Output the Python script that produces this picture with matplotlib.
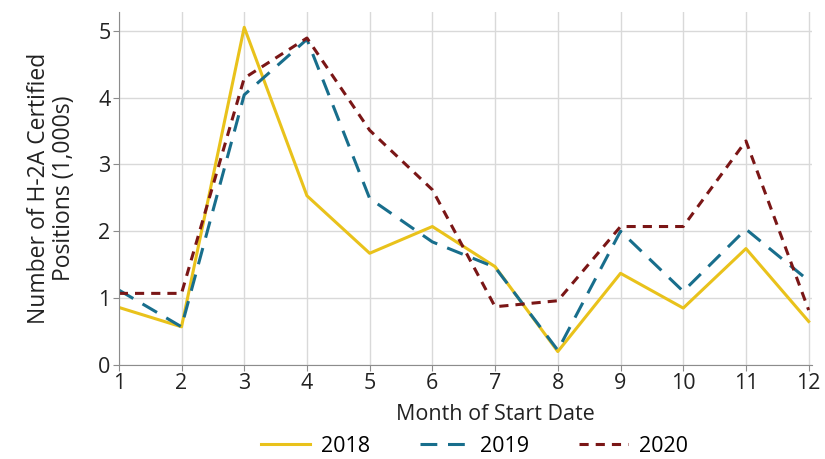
import matplotlib.pyplot as plt

plt.rcParams['font.family'] = ['Open Sans', 'DejaVu Sans']

months = [1, 2, 3, 4, 5, 6, 7, 8, 9, 10, 11, 12]
y2018 = [0.86, 0.57, 5.05, 2.53, 1.67, 2.07, 1.47, 0.20, 1.37, 0.85, 1.74, 0.65]
y2019 = [1.12, 0.57, 4.04, 4.87, 2.49, 1.84, 1.46, 0.22, 2.00, 1.10, 2.03, 1.26]
y2020 = [1.07, 1.07, 4.29, 4.89, 3.51, 2.62, 0.87, 0.96, 2.07, 2.07, 3.35, 0.82]

fig = plt.figure(figsize=(8.25, 4.59), dpi=100)
ax = fig.add_axes([0.144, 0.205, 0.84, 0.769])

ax.plot(months, y2018, color='#E9C21B', lw=2.2, label='2018')
ax.plot(months, y2019, color='#186E8C', lw=2.2, dashes=(5.5, 3.5), label='2019')
ax.plot(months, y2020, color='#7A1616', lw=2.2, dashes=(3, 2.3), label='2020')

ax.set_xlim(1, 12.05)
ax.set_ylim(0, 5.28)
ax.set_xticks(months)
ax.set_yticks([0, 1, 2, 3, 4, 5])
ax.grid(True, color='#D9D9D9', lw=1)
ax.set_axisbelow(True)
for s in ['top', 'right']:
    ax.spines[s].set_visible(False)
for s in ['left', 'bottom']:
    ax.spines[s].set_color('#8C8C8C')
ax.tick_params(colors='#8C8C8C', labelcolor='#222222', labelsize=15.5, length=4, pad=2)
ax.set_xlabel('Month of Start Date', fontsize=15.5, color='#222222', labelpad=-1)
ax.xaxis.set_label_coords(0.543, -0.11)
ax.set_ylabel('Number of H-2A Certified\nPositions (1,000s)', fontsize=16.5, color='#222222',
              labelpad=16, multialignment='center', linespacing=1.05)

ax.legend(loc='center', bbox_to_anchor=(0.575, 0.028), bbox_transform=fig.transFigure,
          ncol=3, frameon=False, borderpad=0, fontsize=15.5, handlelength=2.3,
          columnspacing=2.3, handletextpad=0.5)

fig.savefig('out.png', dpi=100)
